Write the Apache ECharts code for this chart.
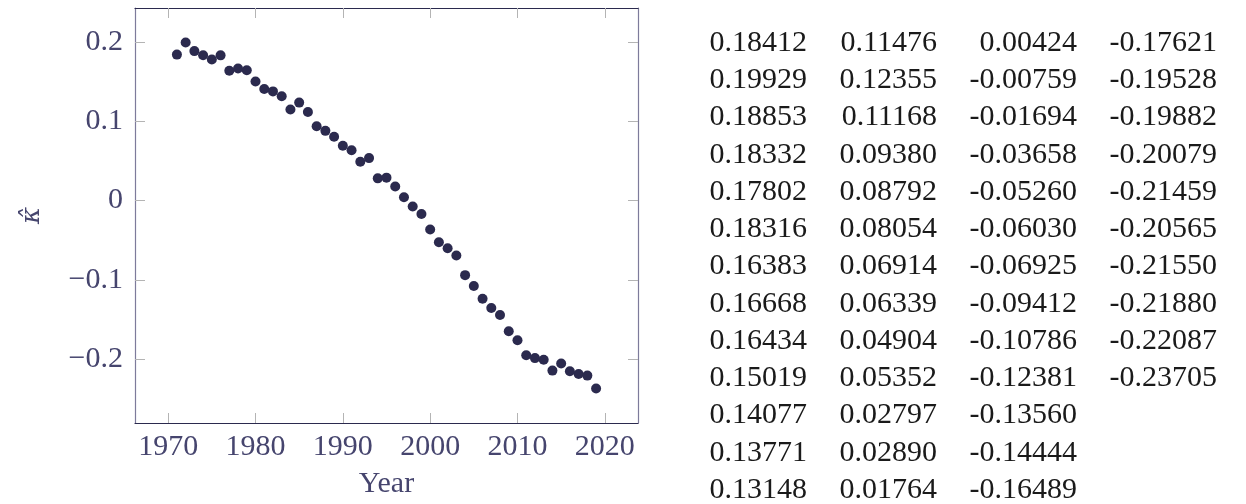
<!DOCTYPE html>
<html>
<head>
<meta charset="utf-8">
<script src="https://cdn.jsdelivr.net/npm/echarts@6/dist/echarts.min.js"></script>
<style>
html,body{margin:0;padding:0;background:#fff;}
#main{width:1246px;height:504px;}
</style>
</head>
<body>
<div id="main"></div>
<script>
// data
var years = [1971,1972,1973,1974,1975,1976,1977,1978,1979,1980,1981,1982,1983,
             1984,1985,1986,1987,1988,1989,1990,1991,1992,1993,1994,1995,1996,
             1997,1998,1999,2000,2001,2002,2003,2004,2005,2006,2007,2008,2009,
             2010,2011,2012,2013,2014,2015,2016,2017,2018,2019];
var kappa = [0.18412,0.19929,0.18853,0.18332,0.17802,0.18316,0.16383,0.16668,0.16434,0.15019,0.14077,0.13771,0.13148,
             0.11476,0.12355,0.11168,0.09380,0.08792,0.08054,0.06914,0.06339,0.04904,0.05352,0.02797,0.02890,0.01764,
             0.00424,-0.00759,-0.01694,-0.03658,-0.05260,-0.06030,-0.06925,-0.09412,-0.10786,-0.12381,-0.13560,-0.14444,-0.16489,
             -0.17621,-0.19528,-0.19882,-0.20079,-0.21459,-0.20565,-0.21550,-0.21880,-0.22087,-0.23705];
var xTicks = [1970,1980,1990,2000,2010,2020];
var yTicks = [-0.2,-0.1,0,0.1,0.2];
var rowsPerCol = 13;

var font = 'Liberation Serif';
var labelColor = '#46456e';
var dark = '#2b2a4e';
var side = '#7d7b9b';
var tickColor = '#b4b4b4';

var pts = [];
for (var i = 0; i < years.length; i++) pts.push([years[i], kappa[i]]);

// pgfplots style 10% enlarge of the data range
var xr = years[years.length-1] - years[0];
var xmin = years[0] - 0.1*xr, xmax = years[years.length-1] + 0.1*xr;
var kmax = Math.max.apply(null, kappa), kmin = Math.min.apply(null, kappa);
var ymin = kmin - 0.1*(kmax-kmin), ymax = kmax + 0.1*(kmax-kmin);

function fmtY(v){
  v = Math.round(v*10)/10;
  return v < 0 ? '\u2212' + Math.abs(v) : String(v);
}
function fmtX(v){ return String(Math.round(v)); }

function xAx(pos, color, show){
  return {
    type:'value', position:pos, min:xmin, max:xmax, splitLine:{show:false},
    axisLine:{show:true, onZero:false, lineStyle:{color:color, width:1.2}},
    axisTick:{show:true, inside:true, length:10, customValues:xTicks, lineStyle:{color:tickColor}},
    axisLabel:{show:show, customValues:xTicks, margin:9, formatter:fmtX, fontFamily:font, fontSize:30, color:labelColor},
    name: show ? 'Year' : '', nameLocation:'middle', nameGap:46,
    nameTextStyle:{fontFamily:font, fontSize:30, color:labelColor}
  };
}
function yAx(pos, color, show){
  return {
    type:'value', position:pos, min:ymin, max:ymax, splitLine:{show:false},
    axisLine:{show:true, onZero:false, lineStyle:{color:color, width:1.2}},
    axisTick:{show:true, inside:true, length:10, customValues:yTicks, lineStyle:{color:tickColor}},
    axisLabel:{show:show, customValues:yTicks, margin:12, formatter:fmtY, fontFamily:font, fontSize:30, color:labelColor},
    name: show ? '\u03BA\u0302' : '', nameLocation:'middle', nameGap:90, nameRotate:90,
    nameTextStyle:{fontFamily:'DejaVu Serif', fontSize:26, fontStyle:'italic', color:labelColor}
  };
}

// table on the right
var colRight = [807, 937, 1077, 1217];
var rowTop = 43, rowStep = 37.25;
var cells = [];
for (var j = 0; j < kappa.length; j++) {
  var c = Math.floor(j / rowsPerCol), r = j % rowsPerCol;
  cells.push({
    type:'text', x:colRight[c], y:rowTop + r*rowStep,
    style:{text:kappa[j].toFixed(5), fontFamily:font, fontSize:30, fill:'#1a1a1a',
           textAlign:'right', textVerticalAlign:'middle'}
  });
}

var myChart = echarts.init(document.getElementById('main'), null, {renderer:'canvas'});
var option = {
  animation:false,
  grid:{left:135, top:8, width:503, height:418, containLabel:false},
  xAxis:[xAx('bottom', dark, true), xAx('top', dark, false)],
  yAxis:[yAx('left', side, true), yAx('right', side, false)],
  series:[{
    type:'scatter', xAxisIndex:0, yAxisIndex:0, data:pts,
    symbol:'circle', symbolSize:10, itemStyle:{color:dark, opacity:1}
  }],
  graphic:cells
};
myChart.setOption(option);
</script>
</body>
</html>
